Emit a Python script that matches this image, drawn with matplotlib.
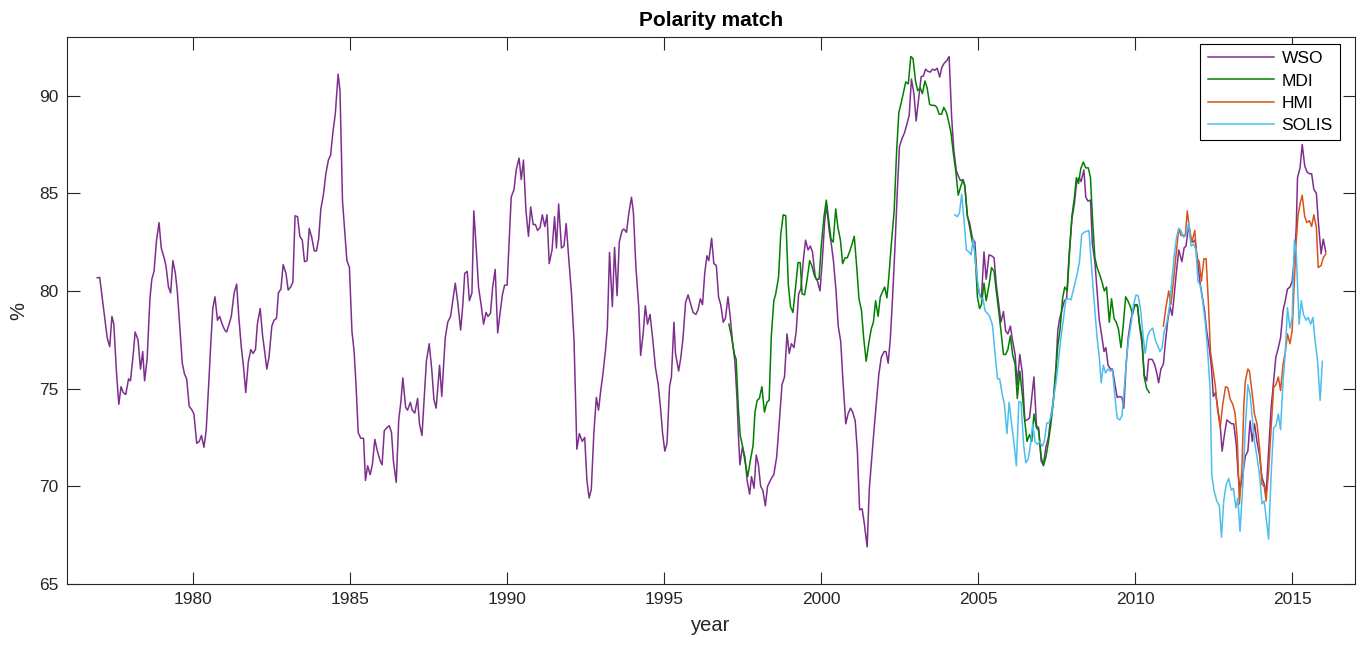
import matplotlib
matplotlib.use("Agg")
import matplotlib.pyplot as plt

plt.rcParams['font.family'] = ['Liberation Sans', 'DejaVu Sans']

# ---------------- data ----------------
wso_year = [
 1976.96,1977.04,1977.17,1977.28,1977.36,1977.43,1977.49,1977.58,1977.65,1977.72,1977.79,1977.87,1977.96,
 1978.02,1978.11,1978.17,1978.26,1978.34,1978.41,1978.47,1978.55,1978.64,1978.70,1978.77,1978.85,1978.93,
 1979.00,1979.09,1979.15,1979.23,1979.30,1979.37,1979.45,1979.51,1979.57,1979.67,1979.74,1979.81,1979.89,1979.98,
 1980.04,1980.13,1980.21,1980.28,1980.36,1980.43,1980.51,1980.57,1980.64,1980.71,1980.79,1980.86,1980.94,
 1981.02,1981.08,1981.16,1981.23,1981.32,1981.40,1981.47,1981.55,1981.62,1981.69,1981.77,1981.85,1981.92,
 1982.00,1982.06,1982.15,1982.22,1982.30,1982.36,1982.43,1982.52,1982.59,1982.67,1982.73,1982.81,1982.88,1982.97,
 1983.04,1983.12,1983.19,1983.26,1983.34,1983.41,1983.49,1983.56,1983.64,1983.71,1983.79,1983.87,1983.94,
 1984.01,1984.08,1984.16,1984.24,1984.32,1984.39,1984.47,1984.54,1984.63,1984.69,1984.77,1984.85,1984.91,1984.99,
 1985.07,1985.14,1985.20,1985.27,1985.35,1985.44,1985.50,1985.57,1985.65,1985.72,1985.80,1985.88,1985.97,
 1986.03,1986.10,1986.18,1986.26,1986.33,1986.39,1986.48,1986.56,1986.63,1986.69,1986.78,1986.84,1986.93,1986.99,
 1987.07,1987.16,1987.22,1987.30,1987.37,1987.44,1987.53,1987.61,1987.68,1987.75,1987.86,1987.93,
 1988.04,1988.12,1988.21,1988.28,1988.36,1988.44,1988.53,1988.60,1988.66,1988.74,1988.81,1988.89,1988.95,
 1989.03,1989.10,1989.19,1989.26,1989.34,1989.40,1989.48,1989.55,1989.63,1989.71,1989.78,1989.86,1989.93,
 1990.01,1990.08,1990.14,1990.23,1990.30,1990.39,1990.46,1990.53,1990.61,1990.69,1990.76,1990.84,1990.91,1990.98,
 1991.06,1991.13,1991.21,1991.28,1991.35,1991.44,1991.52,1991.58,1991.65,1991.74,1991.82,1991.89,1991.97,
 1992.06,1992.14,1992.23,1992.31,1992.40,1992.48,1992.55,1992.62,1992.69,1992.77,1992.85,1992.92,1992.99,
 1993.06,1993.14,1993.20,1993.27,1993.36,1993.43,1993.51,1993.58,1993.67,1993.73,1993.81,1993.88,1993.97,
 1994.03,1994.11,1994.20,1994.26,1994.34,1994.41,1994.48,1994.56,1994.65,1994.73,1994.82,1994.90,1994.96,
 1995.03,1995.10,1995.18,1995.24,1995.32,1995.37,1995.47,1995.54,1995.61,1995.69,1995.77,1995.86,1995.93,
 1996.02,1996.09,1996.16,1996.23,1996.30,1996.37,1996.43,1996.52,1996.59,1996.67,1996.74,1996.81,1996.89,1996.96,
 1997.04,1997.11,1997.19,1997.26,1997.33,1997.37,1997.42,1997.50,1997.58,1997.65,1997.73,1997.79,1997.87,1997.94,
 1998.01,1998.08,1998.15,1998.23,1998.30,1998.42,1998.50,1998.59,1998.67,1998.76,1998.84,1998.92,1998.99,
 1999.06,1999.14,1999.21,1999.29,1999.36,1999.44,1999.51,1999.59,1999.66,1999.73,1999.82,1999.89,1999.97,
 2000.04,2000.12,2000.18,2000.26,2000.33,2000.40,2000.48,2000.55,2000.63,2000.70,2000.79,2000.86,2000.94,
 2001.01,2001.09,2001.16,2001.23,2001.31,2001.38,2001.47,2001.54,2001.62,2001.69,2001.77,2001.84,2001.92,
 2002.01,2002.07,2002.14,2002.21,2002.29,2002.36,2002.43,2002.50,2002.58,2002.66,2002.73,2002.81,2002.88,2002.96,
 2003.03,2003.12,2003.19,2003.26,2003.33,2003.40,2003.48,2003.55,2003.63,2003.70,2003.78,2003.85,2003.92,
 2004.01,2004.08,2004.16,2004.23,2004.31,2004.37,2004.44,2004.52,2004.58,2004.66,2004.73,2004.82,2004.90,2004.98,
 2005.05,2005.11,2005.19,2005.26,2005.35,2005.43,2005.51,2005.58,2005.66,2005.73,2005.81,2005.88,2005.95,
 2006.03,2006.10,2006.18,2006.25,2006.33,2006.41,2006.49,2006.56,2006.64,2006.71,2006.78,2006.86,2006.93,
 2007.01,2007.08,2007.16,2007.24,2007.32,2007.39,2007.48,2007.54,2007.60,2007.69,2007.75,2007.82,2007.90,2007.99,
 2008.07,2008.14,2008.22,2008.28,2008.37,2008.43,2008.50,2008.58,2008.64,2008.72,2008.79,2008.86,2008.93,
 2009.01,2009.07,2009.14,2009.22,2009.28,2009.36,2009.43,2009.51,2009.58,2009.64,2009.71,2009.78,2009.86,2009.93,
 2010.01,2010.08,2010.15,2010.22,2010.29,2010.37,2010.43,2010.54,2010.62,2010.69,2010.75,2010.82,2010.90,2010.96,
 2011.04,2011.11,2011.18,2011.24,2011.31,2011.39,2011.49,2011.56,2011.62,2011.71,2011.77,2011.83,2011.91,2011.98,
 2012.06,2012.13,2012.21,2012.28,2012.36,2012.43,2012.49,2012.56,2012.63,2012.71,2012.77,2012.84,2012.92,2012.99,
 2013.07,2013.14,2013.22,2013.28,2013.34,2013.41,2013.51,2013.59,2013.66,2013.73,2013.80,2013.88,2013.96,
 2014.04,2014.11,2014.17,2014.25,2014.33,2014.41,2014.48,2014.56,2014.63,2014.71,2014.78,2014.85,2014.93,
 2015.00,2015.07,2015.13,2015.17,2015.25,2015.32,2015.40,2015.47,2015.55,2015.62,2015.69,2015.77,2015.83,2015.92,2015.99,
 2016.07]
wso_val = [
 80.67,80.7,79.0,77.6,77.15,78.7,78.3,75.7,74.2,75.1,74.8,74.7,75.5,
 75.4,76.8,77.9,77.5,76.0,76.9,75.4,76.5,79.6,80.6,81.0,82.6,83.5,
 82.2,81.7,81.3,80.2,79.9,81.55,80.9,80.0,78.65,76.3,75.75,75.5,74.1,73.9,
 73.7,72.2,72.3,72.6,72.0,72.85,75.2,77.1,79.1,79.7,78.5,78.7,78.3,
 78.0,77.9,78.3,78.7,79.9,80.35,78.65,77.1,76.1,74.8,76.35,77.0,76.8,
 77.0,78.3,79.1,77.8,76.8,76.0,76.6,78.2,78.5,78.6,79.9,80.1,81.35,80.9,
 80.05,80.2,80.45,83.85,83.8,82.8,82.6,81.5,81.55,83.2,82.75,82.05,82.05,
 82.65,84.2,84.9,86.0,86.7,86.95,88.2,89.05,91.1,90.25,84.6,82.9,81.55,81.2,
 77.95,76.9,75.2,72.75,72.46,72.46,70.3,71.05,70.6,71.1,72.4,71.8,71.3,
 71.1,72.85,73.0,73.1,72.75,71.3,70.2,73.4,74.35,75.55,74.05,73.9,74.3,73.9,
 73.75,74.5,73.2,72.6,74.5,76.4,77.3,76.0,74.45,74.0,76.2,74.6,
 77.6,78.4,78.7,79.5,80.4,79.4,78.0,79.3,80.9,81.0,79.5,79.9,84.1,
 82.1,80.2,79.2,78.3,78.9,78.7,78.85,80.2,81.1,77.85,78.8,79.8,80.3,
 80.3,82.75,84.8,85.2,86.2,86.8,85.7,86.7,84.1,82.8,84.3,83.4,83.4,83.1,
 83.25,83.9,83.3,83.9,81.4,82.1,83.8,82.2,84.45,82.2,82.3,83.45,81.7,
 79.85,77.45,71.9,72.7,72.3,72.5,70.3,69.4,69.85,72.7,74.55,73.9,74.9,
 75.75,76.95,78.1,81.97,79.2,82.23,79.76,82.5,83.1,83.17,83.0,83.94,84.8,
 84.0,81.2,79.2,76.7,77.8,79.24,78.3,78.8,77.45,76.1,75.2,73.9,72.7,
 71.8,72.2,75.1,75.6,78.4,76.8,75.9,76.6,77.6,79.4,79.8,79.3,78.9,
 78.8,79.05,79.6,79.3,80.9,81.8,81.55,82.7,81.4,81.3,79.7,79.3,78.4,78.6,
 79.7,78.7,77.3,76.4,74.4,72.7,71.1,72.0,71.5,70.3,69.6,70.5,69.9,71.6,
 71.1,70.0,69.8,69.0,70.0,70.4,70.6,71.5,73.2,75.2,75.6,77.8,76.8,
 77.3,77.1,77.9,79.85,80.1,81.6,82.6,82.1,82.3,82.0,80.7,80.5,80.0,
 81.5,83.6,84.4,83.1,82.4,81.5,80.0,78.2,77.4,75.4,73.2,73.7,74.0,
 73.8,73.35,71.8,68.8,68.85,68.1,66.9,69.9,71.5,72.9,74.4,75.7,76.6,
 76.9,76.9,76.3,77.6,80.0,82.4,85.1,87.4,87.8,88.1,88.5,89.0,90.85,90.1,
 88.7,90.0,90.97,91.0,91.35,91.25,91.2,91.35,91.3,91.4,90.95,91.45,91.65,
 91.8,92.0,88.9,87.2,86.15,85.9,85.65,85.7,85.4,83.8,83.5,82.7,82.5,80.4,
 79.8,79.7,82.0,80.6,81.85,81.8,81.7,80.35,79.3,78.4,78.95,77.95,77.8,
 78.2,77.45,76.75,75.2,76.75,75.8,73.35,73.4,73.5,74.55,75.6,73.1,73.0,
 71.3,71.1,72.0,72.5,73.6,74.3,76.1,78.0,78.6,79.15,79.5,79.6,81.9,83.7,
 84.5,85.6,85.8,85.6,86.2,84.8,84.6,84.65,82.4,81.5,80.0,78.5,77.8,
 76.9,77.1,76.2,76.0,76.0,75.2,74.55,74.6,74.55,74.0,76.1,77.6,78.5,79.0,
 79.3,79.2,78.1,77.3,75.7,75.4,76.5,76.5,76.25,75.8,75.3,76.0,76.25,77.3,
 78.5,79.2,78.75,79.7,80.9,82.1,81.5,82.2,82.3,83.4,82.6,82.5,82.6,81.7,
 80.5,79.8,79.0,77.95,77.1,76.1,74.6,74.8,74.0,73.1,71.8,72.6,73.4,73.3,
 73.2,73.2,72.15,70.6,69.85,70.4,71.55,71.8,73.35,72.3,73.2,72.3,71.6,
 70.45,70.1,69.6,71.8,74.0,75.4,76.6,77.1,77.6,79.0,79.5,80.1,80.2,
 80.5,81.7,83.25,85.8,86.3,87.5,86.4,86.1,86.0,86.0,85.2,85.0,83.6,81.9,82.65,
 82.0]

mdi_year = [
 1997.07,1997.16,1997.24,1997.30,1997.37,1997.43,1997.50,1997.58,1997.67,1997.75,1997.84,1997.90,1997.97,
 1998.04,1998.12,1998.20,1998.28,1998.35,1998.42,1998.50,1998.56,1998.65,1998.72,1998.80,1998.88,1998.96,
 1999.03,1999.11,1999.18,1999.27,1999.34,1999.40,1999.48,1999.56,1999.64,1999.71,1999.79,1999.86,1999.94,
 2000.01,2000.10,2000.17,2000.24,2000.32,2000.39,2000.47,2000.54,2000.62,2000.69,2000.77,2000.84,2000.92,2000.99,
 2001.06,2001.14,2001.21,2001.29,2001.36,2001.44,2001.52,2001.60,2001.67,2001.74,2001.82,2001.89,2001.97,
 2002.03,2002.10,2002.16,2002.24,2002.33,2002.41,2002.48,2002.55,2002.63,2002.70,2002.78,2002.86,2002.93,
 2003.01,2003.08,2003.16,2003.23,2003.31,2003.38,2003.46,2003.54,2003.62,2003.69,2003.76,2003.84,2003.91,2003.99,
 2004.06,2004.14,2004.21,2004.29,2004.37,2004.44,2004.52,2004.58,2004.66,2004.73,2004.82,2004.90,2004.98,
 2005.05,2005.11,2005.19,2005.26,2005.35,2005.43,2005.51,2005.58,2005.66,2005.73,2005.81,2005.88,2005.95,
 2006.03,2006.10,2006.18,2006.25,2006.33,2006.41,2006.49,2006.56,2006.64,2006.71,2006.78,2006.86,2006.93,
 2007.01,2007.08,2007.16,2007.24,2007.32,2007.39,2007.46,2007.54,2007.61,2007.69,2007.76,2007.84,2007.91,2007.99,
 2008.07,2008.13,2008.20,2008.27,2008.35,2008.43,2008.51,2008.58,2008.64,2008.72,2008.79,2008.87,2008.94,
 2009.02,2009.09,2009.18,2009.25,2009.33,2009.40,2009.47,2009.55,2009.62,2009.70,2009.77,2009.85,2009.92,2009.99,
 2010.07,2010.14,2010.22,2010.29,2010.37,2010.45]
mdi_val = [
 78.3,77.6,76.8,76.5,74.0,72.6,72.1,71.3,70.5,71.3,72.1,73.8,74.4,
 74.5,75.1,73.8,74.3,74.4,77.7,79.5,79.85,80.7,82.9,83.9,83.85,80.35,
 79.2,78.9,80.0,81.45,81.45,79.85,79.8,80.6,81.55,81.3,80.8,80.6,80.6,
 82.3,83.85,84.65,83.7,82.65,82.5,84.2,83.25,82.6,81.4,81.7,81.7,82.05,82.4,
 82.8,81.2,79.6,79.0,77.6,76.4,77.3,78.05,78.4,79.5,78.7,79.7,80.0,
 80.2,79.65,80.7,82.4,84.1,87.2,89.15,89.6,90.2,90.7,90.6,92.0,91.9,
 90.75,90.25,90.4,90.1,90.75,90.4,89.55,89.5,89.5,89.4,89.05,89.05,89.4,89.15,
 88.7,88.1,87.1,86.15,84.9,85.3,85.7,85.35,83.9,83.3,82.5,82.1,79.7,
 79.1,79.3,80.4,79.5,80.3,81.2,81.0,80.0,78.95,77.95,76.75,76.75,77.0,
 77.7,76.75,76.25,74.5,75.9,74.7,73.3,72.3,72.65,72.3,73.7,73.0,72.85,
 71.5,71.05,71.5,72.25,73.2,74.2,75.5,77.2,78.0,79.6,80.2,80.0,81.9,83.85,
 84.8,85.8,85.5,86.25,86.6,86.3,86.3,85.8,83.8,81.7,81.2,80.85,80.5,
 80.0,80.2,78.4,79.6,78.6,78.4,78.05,77.1,78.2,79.7,79.5,79.2,78.8,79.3,
 79.3,78.3,77.6,75.6,75.0,74.8]

hmi_year = [
 2010.90,2010.98,2011.07,2011.14,2011.22,2011.30,2011.39,2011.46,2011.54,2011.60,2011.66,2011.73,2011.81,2011.90,2011.96,
 2012.04,2012.11,2012.19,2012.26,2012.33,2012.40,2012.47,2012.55,2012.62,2012.71,2012.79,2012.88,2012.95,
 2013.03,2013.11,2013.18,2013.25,2013.32,2013.40,2013.46,2013.51,2013.59,2013.64,2013.73,2013.80,2013.88,2013.96,
 2014.04,2014.11,2014.17,2014.25,2014.33,2014.41,2014.48,2014.56,2014.63,2014.71,2014.78,2014.85,2014.93,
 2015.00,2015.07,2015.13,2015.19,2015.25,2015.32,2015.40,2015.47,2015.55,2015.62,2015.69,2015.77,2015.83,2015.92,2015.99,
 2016.07]
hmi_val = [
 78.2,79.15,80.0,79.3,80.5,81.8,83.2,82.85,82.85,82.85,84.1,83.2,82.5,83.1,81.7,
 81.5,80.5,81.65,81.65,79.5,76.9,76.1,75.2,74.0,73.0,74.2,75.1,75.05,
 74.45,74.2,73.75,72.5,69.1,70.9,74.1,75.4,76.0,75.9,74.7,73.7,73.2,72.0,
 70.1,70.0,69.25,70.8,73.0,75.05,75.2,75.6,74.9,76.25,76.85,77.8,77.3,
 78.0,80.5,82.6,83.9,84.45,84.9,83.8,83.5,83.6,83.3,83.9,83.25,81.2,81.3,81.7,
 81.9]

solis_year = [
 2004.26,2004.34,2004.41,2004.48,2004.56,2004.63,2004.71,2004.78,2004.85,2004.93,
 2005.00,2005.07,2005.16,2005.22,2005.30,2005.37,2005.46,2005.53,2005.62,2005.69,2005.77,2005.84,2005.92,2005.99,
 2006.07,2006.15,2006.22,2006.30,2006.37,2006.45,2006.52,2006.60,2006.67,2006.74,2006.82,2006.89,2006.96,
 2007.04,2007.11,2007.19,2007.26,2007.34,2007.41,2007.49,2007.56,2007.64,2007.72,2007.80,2007.89,2007.96,
 2008.08,2008.16,2008.23,2008.30,2008.37,2008.45,2008.53,2008.60,2008.67,2008.73,2008.79,2008.86,2008.92,2008.99,
 2009.06,2009.13,2009.21,2009.28,2009.36,2009.43,2009.51,2009.58,2009.65,2009.73,2009.80,2009.88,2009.95,
 2010.03,2010.10,2010.18,2010.25,2010.32,2010.40,2010.47,2010.56,2010.64,2010.72,2010.79,2010.86,2010.93,
 2011.00,2011.09,2011.18,2011.25,2011.32,2011.39,2011.46,2011.54,2011.62,2011.71,2011.78,2011.86,2011.94,
 2012.00,2012.07,2012.15,2012.24,2012.31,2012.39,2012.44,2012.51,2012.60,2012.68,2012.75,2012.82,2012.90,2012.98,
 2013.06,2013.13,2013.21,2013.27,2013.34,2013.43,2013.51,2013.59,2013.66,2013.73,2013.80,2013.88,2013.96,
 2014.04,2014.11,2014.17,2014.25,2014.33,2014.41,2014.48,2014.56,2014.63,2014.71,2014.78,2014.85,2014.93,
 2015.00,2015.07,2015.13,2015.22,2015.29,2015.36,2015.44,2015.51,2015.59,2015.66,2015.73,2015.81,2015.89,2015.96]
solis_val = [
 83.9,83.8,84.0,84.95,83.5,82.1,82.0,81.85,82.7,81.3,
 80.3,79.65,79.6,79.0,78.85,78.7,78.25,77.0,75.5,75.5,74.7,74.2,72.7,74.3,
 73.2,72.15,71.05,74.35,74.3,72.15,71.2,71.4,72.15,73.2,72.25,72.15,72.3,
 72.05,72.3,73.25,73.25,73.7,74.55,75.4,76.4,77.6,78.6,79.6,79.6,79.55,
 80.35,80.9,81.5,82.9,83.0,83.05,83.1,81.55,80.0,78.8,77.6,76.6,75.3,76.2,
 75.8,76.0,75.9,75.95,74.55,73.5,73.4,73.6,74.9,76.6,77.6,78.4,79.3,
 79.8,79.75,79.0,77.8,76.8,77.7,77.96,78.1,77.5,77.2,76.9,77.1,77.96,
 78.3,79.15,80.7,81.9,82.75,83.2,83.1,82.75,82.85,83.5,82.3,82.4,82.1,
 80.5,80.3,79.5,78.3,76.9,74.9,70.6,69.8,69.25,69.0,67.4,69.25,70.1,70.4,
 69.8,69.9,68.9,69.4,67.7,70.1,73.0,75.2,74.7,73.5,72.3,71.5,70.6,
 69.1,69.25,68.4,67.3,70.6,73.0,73.1,73.7,72.9,75.4,76.8,79.15,78.1,
 78.65,82.6,81.9,78.3,79.5,78.8,78.5,78.65,78.3,78.65,77.45,76.4,74.4,76.4]

series_names = ['WSO', 'MDI', 'HMI', 'SOLIS']
series_colors = ['#7E2F8E', '#008000', '#D95319', '#4DBEEE']
x_ticks = [1980, 1985, 1990, 1995, 2000, 2005, 2010, 2015]
y_ticks = [65, 70, 75, 80, 85, 90]

# ---------------- figure ----------------
W, H = 1363, 645
fig = plt.figure(figsize=(W / 100, H / 100), dpi=100)
ax = fig.add_axes([67 / W, (H - 584) / H, (1355 - 67) / W, (584 - 37) / H])

axc = '#262626'
for (xs, ys), name, col in zip([(wso_year, wso_val), (mdi_year, mdi_val),
                                (hmi_year, hmi_val), (solis_year, solis_val)],
                               series_names, series_colors):
    ax.plot(xs, ys, color=col, lw=1.1, label=name)

ax.set_xlim(1976, 2017)
ax.set_ylim(65, 93)
ax.set_xticks(x_ticks)
ax.set_yticks(y_ticks)
ax.tick_params(direction='in', length=9, width=0.8, colors=axc, labelsize=12.5,
               top=True, right=True, pad=6)
for s in ax.spines.values():
    s.set_color(axc)
    s.set_linewidth(0.8)

ax.set_title('Polarity match', fontsize=15, fontweight='bold', color='black', pad=8)
ax.set_xlabel('year', fontsize=14.5, color=axc, labelpad=6)
ax.set_ylabel('%', fontsize=14.5, color=axc, labelpad=8)

leg = ax.legend(loc='upper right', bbox_to_anchor=((1340 - 67) / 1288, (584 - 44) / 547),
                borderaxespad=0, fontsize=12.5, handlelength=3.8, handletextpad=0.45,
                labelspacing=0.4, borderpad=0.42, fancybox=False, framealpha=1)
leg.get_frame().set_edgecolor('black')
leg.get_frame().set_linewidth(0.8)

fig.savefig('out.png', dpi=100)
